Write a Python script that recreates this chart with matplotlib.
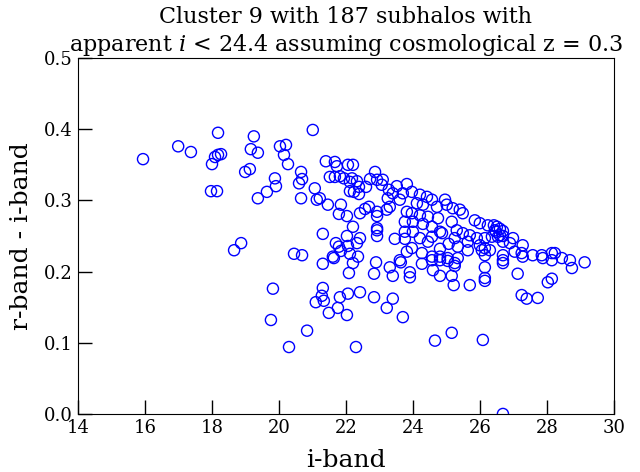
import matplotlib
matplotlib.use('Agg')
import matplotlib.pyplot as plt

plt.rcParams['font.family'] = 'DejaVu Serif'
plt.rcParams['mathtext.fontset'] = 'dejavuserif'

i_band = [15.94, 16.99, 17.37, 18.18, 18.09, 18.18, 18.27, 18.0, 17.97, 18.15,
          18.66, 18.87, 19.25, 19.16, 19.37, 19.13, 18.99, 19.37, 21.01, 20.03,
          20.21, 20.15, 20.27, 19.88, 19.91, 19.64, 20.66, 20.69, 20.6, 20.66,
          21.07, 21.13, 21.22, 21.46, 21.4, 21.67, 21.73, 22.06, 22.21, 21.52,
          21.67, 21.82, 21.94, 22.12, 22.18, 22.33, 22.39, 22.6, 22.12, 22.24,
          22.39, 22.72, 22.87, 22.93, 21.85, 21.79, 22.03, 22.42, 22.57, 22.69,
          22.93, 22.93, 22.21, 21.31, 22.03, 22.93, 22.93, 21.7, 21.79, 22.06,
          22.33, 22.42, 22.12, 22.36, 20.45, 20.69, 21.61, 21.31, 21.64, 21.85,
          22.21, 22.09, 22.9, 22.84, 19.82, 21.31, 21.28, 21.1, 21.34, 21.82,
          22.06, 22.42, 22.84, 21.76, 21.49, 22.03, 19.76, 20.84, 20.3, 22.3,
          23.1, 23.07, 23.52, 23.82, 23.97, 24.21, 24.42, 24.57, 24.96, 23.28,
          23.4, 23.7, 23.25, 23.61, 24.12, 24.3, 24.72, 25.01, 25.19, 25.4,
          25.49, 25.85, 26.0, 26.24, 26.45, 26.54, 23.22, 23.31, 23.82, 23.97,
          24.21, 24.45, 24.75, 23.76, 24.0, 24.3, 24.57, 24.81, 25.16, 25.31,
          25.49, 25.7, 25.91, 26.15, 26.36, 25.25, 25.64, 26.0, 25.34, 25.64,
          26.15, 26.15, 26.06, 22.93, 23.46, 23.76, 23.76, 24.0, 24.21, 24.57,
          24.45, 24.87, 23.97, 23.82, 24.27, 24.57, 24.81, 24.81, 25.04, 25.07,
          25.25, 25.34, 23.61, 23.31, 23.4, 23.91, 23.91, 24.6, 24.81, 25.16,
          26.15, 26.15, 23.64, 24.27, 24.57, 24.81, 25.04, 25.25, 25.22, 25.7,
          26.15, 23.4, 23.22, 23.7, 24.66, 25.16, 26.09, 26.69,
          26.42, 26.51, 26.6, 26.69, 26.48, 26.6, 26.69, 26.99, 26.9, 26.69,
          27.28, 26.3, 26.69, 26.69, 26.69, 27.04, 27.25, 27.28, 27.58, 27.85,
          27.88, 28.15, 28.24, 28.15, 28.45, 28.69, 29.13, 28.75, 27.13, 28.03,
          28.15, 27.25, 27.4, 27.73]

r_minus_i = [0.358, 0.376, 0.368, 0.395, 0.361, 0.364, 0.365, 0.351, 0.313, 0.313,
             0.230, 0.240, 0.390, 0.372, 0.367, 0.344, 0.340, 0.303, 0.399, 0.376,
             0.378, 0.364, 0.351, 0.331, 0.320, 0.312, 0.340, 0.330, 0.324, 0.303,
             0.317, 0.301, 0.303, 0.294, 0.355, 0.354, 0.348, 0.350, 0.350, 0.333,
             0.333, 0.334, 0.331, 0.326, 0.331, 0.327, 0.319, 0.319, 0.313, 0.312,
             0.309, 0.330, 0.340, 0.329, 0.294, 0.281, 0.278, 0.282, 0.288, 0.291,
             0.284, 0.278, 0.263, 0.253, 0.250, 0.258, 0.250, 0.240, 0.235, 0.236,
             0.240, 0.247, 0.225, 0.221, 0.225, 0.223, 0.221, 0.211, 0.219, 0.229,
             0.212, 0.198, 0.213, 0.197, 0.176, 0.177, 0.166, 0.157, 0.159, 0.164,
             0.169, 0.171, 0.164, 0.149, 0.142, 0.139, 0.132, 0.117, 0.094, 0.094,
             0.329, 0.322, 0.320, 0.323, 0.312, 0.308, 0.305, 0.301, 0.301, 0.315,
             0.310, 0.310, 0.303, 0.301, 0.296, 0.294, 0.291, 0.294, 0.289, 0.287,
             0.282, 0.272, 0.268, 0.265, 0.258, 0.249, 0.287, 0.291, 0.284, 0.282,
             0.279, 0.277, 0.275, 0.270, 0.270, 0.267, 0.263, 0.256, 0.270, 0.258,
             0.254, 0.251, 0.247, 0.247, 0.249, 0.247, 0.242, 0.237, 0.235, 0.230,
             0.233, 0.223, 0.230, 0.261, 0.246, 0.246, 0.256, 0.256, 0.247, 0.249,
             0.242, 0.254, 0.233, 0.228, 0.226, 0.221, 0.221, 0.232, 0.219, 0.239,
             0.212, 0.219, 0.216, 0.206, 0.194, 0.199, 0.192, 0.202, 0.194, 0.194,
             0.206, 0.191, 0.213, 0.211, 0.216, 0.216, 0.215, 0.208, 0.181, 0.181,
             0.187, 0.162, 0.149, 0.136, 0.103, 0.114, 0.104, 0.0,
             0.265, 0.263, 0.260, 0.257, 0.256, 0.251, 0.250, 0.247, 0.240, 0.242,
             0.237, 0.230, 0.223, 0.216, 0.212, 0.228, 0.226, 0.221, 0.223, 0.223,
             0.219, 0.226, 0.226, 0.216, 0.219, 0.216, 0.213, 0.205, 0.197, 0.185,
             0.190, 0.167, 0.162, 0.163]

fig = plt.figure(figsize=(6.4, 4.72), dpi=100)
ax = fig.add_axes([0.122, 0.123, 0.837, 0.754])
ax.scatter(i_band, r_minus_i, s=64, facecolors='none', edgecolors='b', linewidths=1)

ax.set_xlim(14, 30); ax.set_ylim(0.0, 0.5)
ax.set_xticks(range(14, 31, 2))
ax.set_yticks([0.0, 0.1, 0.2, 0.3, 0.4, 0.5])
ax.tick_params(direction='in', length=10, width=1, labelsize=13, pad=4)
ax.set_xlabel('i-band', fontsize=18, labelpad=8)
ax.set_ylabel('r-band - i-band', fontsize=18, labelpad=8)
ax.set_title('Cluster 9 with 187 subhalos with\napparent $i$ < 24.4 assuming cosmological z = 0.3', fontsize=16, pad=4)
plt.savefig('out.png', dpi=100)
